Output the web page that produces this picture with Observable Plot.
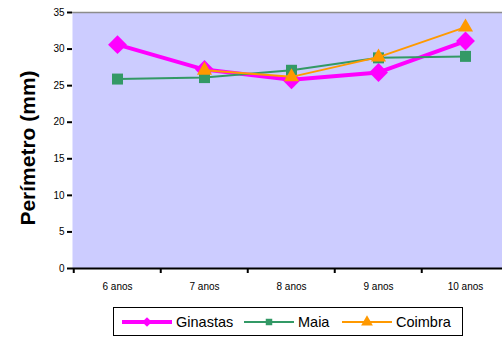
<!DOCTYPE html>
<html>
<head>
<meta charset="utf-8">
<script src="https://cdn.jsdelivr.net/npm/d3@7"></script>
<script src="https://cdn.jsdelivr.net/npm/@observablehq/plot@0.6"></script>
<style>
  body { margin: 0; background: #fff; font-family: "Liberation Sans", Arial, sans-serif; }
  #wrap { position: relative; width: 502px; height: 338px; overflow: hidden; }
  #legend {
    position: absolute; left: 113px; top: 307px; width: 348px; height: 27px;
    border: 1px solid #000; background: #fff;
  }
  #legend .item { position: absolute; top: 0; height: 27px; display: flex; align-items: center; }
  #legend svg { display: block; }
  #legend span { font-size: 14.5px; color: #000; margin-left: 4px; }
</style>
</head>
<body>
<div id="wrap"></div>
<script>
// Perímetro por idade (mm)
const categorias = ["6 anos", "7 anos", "8 anos", "9 anos", "10 anos"];
const ginastas = [30.6, 27.2, 25.8, 26.8, 31.1];
const maia = [25.9, 26.1, 27.1, 28.8, 29.0];
const coimbra = [null, 27.1, 26.2, 28.9, 33.0];
const yTicks = [0, 5, 10, 15, 20, 25, 30, 35];
const tituloY = "Perímetro (mm)";

const series = [
  {nome: "Ginastas", valores: ginastas, cor: "#FF00FF", largura: 4, simbolo: "diamond2", r: 8.5},
  {nome: "Maia", valores: maia, cor: "#339966", largura: 2, simbolo: "square", r: 6.2},
  {nome: "Coimbra", valores: coimbra, cor: "#FF9900", largura: 2, simbolo: "triangle", r: 5.6}
];

const linhas = series.map(s => categorias.map((c, i) => ({idade: c, valor: s.valores[i]})));

// x range runs past the right edge, so the last band is cut off
const xRange = [72, 509.5];
const passo = (xRange[1] - xRange[0]) / categorias.length;

const marks = [
  Plot.frame({fill: "#CCCCFF", stroke: null}),
  Plot.ruleY([35], {stroke: "#8c8c8c", strokeWidth: 1.5}),
  Plot.ruleY([0], {stroke: "#000", strokeWidth: 2}),
  // band boundaries on the category axis, short ticks below the baseline
  Plot.ruleX(categorias, {x: d => d, y1: 0, y2: 0, dx: -passo / 2, insetBottom: -5,
    stroke: "#000", strokeWidth: 2}),
  Plot.axisX({tickSize: 0, tickPadding: 14, fontSize: 10, label: null}),
  Plot.axisY({ticks: yTicks, tickSize: 5, tickPadding: 3, fontSize: 10, label: null, strokeWidth: 2})
];

series.forEach((s, k) => {
  marks.push(Plot.line(linhas[k], {x: "idade", y: "valor", stroke: s.cor, strokeWidth: s.largura,
    strokeLinejoin: "miter"}));
  marks.push(Plot.dot(linhas[k], {x: "idade", y: "valor", symbol: () => s.simbolo, r: s.r,
    fill: s.cor, stroke: "none"}));
});

const chart = Plot.plot({
  width: 502,
  height: 300,
  marginLeft: 72,
  marginRight: 0,
  marginTop: 12,
  marginBottom: 32,
  style: {fontFamily: "'Liberation Sans', Arial, sans-serif", background: "transparent", color: "#000"},
  x: {type: "point", domain: categorias, range: xRange, padding: 0.5},
  y: {domain: [0, 35], range: [268, 12]},
  symbol: {type: "identity"},
  marks
});

// Rotated y-axis title
d3.select(chart).append("text")
  .attr("transform", "translate(27,148) rotate(-90)")
  .attr("text-anchor", "middle")
  .attr("dominant-baseline", "central")
  .attr("font-size", 21)
  .attr("font-weight", "bold")
  .attr("fill", "#000")
  .text(tituloY);

const wrap = document.getElementById("wrap");
wrap.appendChild(chart);

// Legend
const legend = document.createElement("div");
legend.id = "legend";
const posicoes = [8, 130, 228];
series.forEach((s, k) => {
  const item = document.createElement("div");
  item.className = "item";
  item.style.left = posicoes[k] + "px";
  const w = 50, h = 16, cx = w / 2, cy = h / 2;
  const svg = d3.create("svg").attr("width", w).attr("height", h);
  svg.append("line").attr("x1", 0).attr("x2", w).attr("y1", cy).attr("y2", cy)
    .attr("stroke", s.cor).attr("stroke-width", s.largura);
  const sym = {diamond2: d3.symbolDiamond2, square: d3.symbolSquare, triangle: d3.symbolTriangle}[s.simbolo];
  const tamanho = {diamond2: 60, square: 42, triangle: 60}[s.simbolo];
  svg.append("path").attr("d", d3.symbol(sym, tamanho)()).attr("transform", `translate(${cx},${cy})`)
    .attr("fill", s.cor);
  item.appendChild(svg.node());
  const span = document.createElement("span");
  span.textContent = s.nome;
  item.appendChild(span);
  legend.appendChild(item);
});
wrap.appendChild(legend);
</script>
</body>
</html>
